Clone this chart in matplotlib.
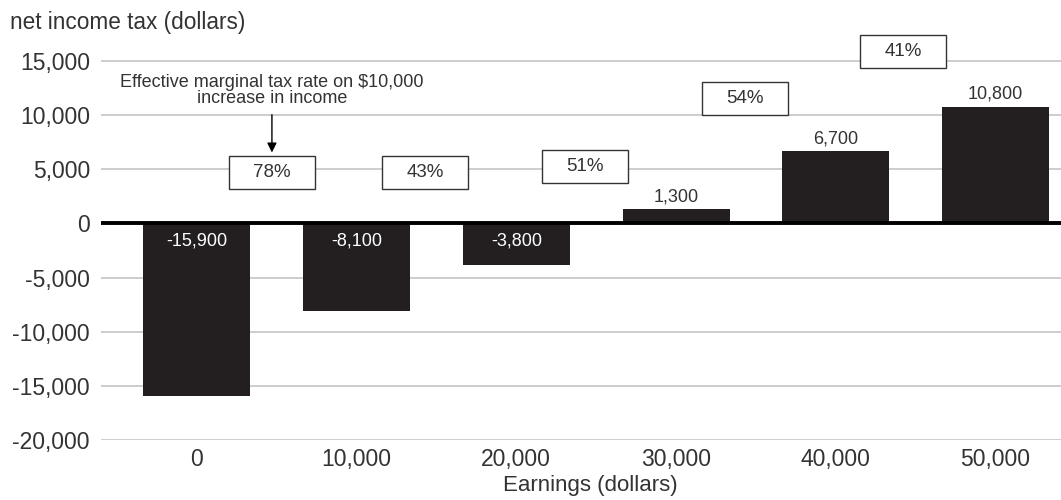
import matplotlib.pyplot as plt
from matplotlib.patches import Rectangle
import numpy as np

earnings = ['0', '10,000', '20,000', '30,000', '40,000', '50,000']
net_tax = [-15900, -8100, -3800, 1300, 6700, 10800]
bar_labels = ['-15,900', '-8,100', '-3,800', '1,300', '6,700', '10,800']

rates = ['78%', '43%', '51%', '54%', '41%']
rate_x = [0.47, 1.43, 2.43, 3.43, 4.42]
rate_y = [4700, 4700, 5300, 11500, 15850]

plt.rcParams['font.family'] = ['Liberation Sans', 'DejaVu Sans']
txt = '#333333'
bar_col = '#231f20'

fig = plt.figure(figsize=(10.61, 5), dpi=100)
ax = fig.add_axes([0.0952, 0.12, 0.9048, 0.812])

x = np.arange(len(earnings))
ax.bar(x, net_tax, width=0.67, color=bar_col, zorder=3)

for xi, v, lab in zip(x, net_tax, bar_labels):
    if v < 0:
        ax.text(xi, -850, lab, ha='center', va='top', color='white', fontsize=13, zorder=4)
    else:
        ax.text(xi, v + 350, lab, ha='center', va='bottom', color=txt, fontsize=13, zorder=4)

# boxes with the marginal rates
bw, bh = 0.538, 3050
for rx, ry, r in zip(rate_x, rate_y, rates):
    ax.add_patch(Rectangle((rx - bw / 2, ry - bh / 2), bw, bh, fc='white', ec='#333333',
                           lw=1.0, zorder=5))
    ax.text(rx, ry, r, ha='center', va='center', color=txt, fontsize=13.5, zorder=6)

ax.annotate('', xy=(0.47, 6300), xytext=(0.47, 10300),
            arrowprops=dict(arrowstyle='-|>', color='black', lw=1.0, mutation_scale=14), zorder=5)
ax.text(0.47, 12300, 'Effective marginal tax rate on $10,000\nincrease in income',
        ha='center', va='center', color=txt, fontsize=13, linespacing=0.95, zorder=5)

ax.axhline(0, color='black', lw=2.8, zorder=4)
ax.set_xlim(-0.60, 5.41)
ax.set_ylim(-20000, 17500)
ax.set_yticks(np.arange(-20000, 15001, 5000))
ax.set_yticklabels(['-20,000', '-15,000', '-10,000', '-5,000', '0', '5,000', '10,000', '15,000'])
ax.set_xticks(x)
ax.set_xticklabels(earnings)
ax.yaxis.grid(True, color='#c0c0c0', lw=1.1, zorder=0)
ax.tick_params(length=0, labelsize=16.5, colors=txt)
ax.tick_params(axis='y', pad=8)
ax.tick_params(axis='x', pad=6)
for s in ax.spines.values():
    s.set_visible(False)

fig.text(0.009, 0.955, 'net income tax (dollars)', fontsize=16.3, color=txt, va='center')
fig.text(0.556, 0.028, 'Earnings (dollars)', fontsize=16, color=txt, ha='center', va='center')

fig.savefig('out.png', dpi=100)
